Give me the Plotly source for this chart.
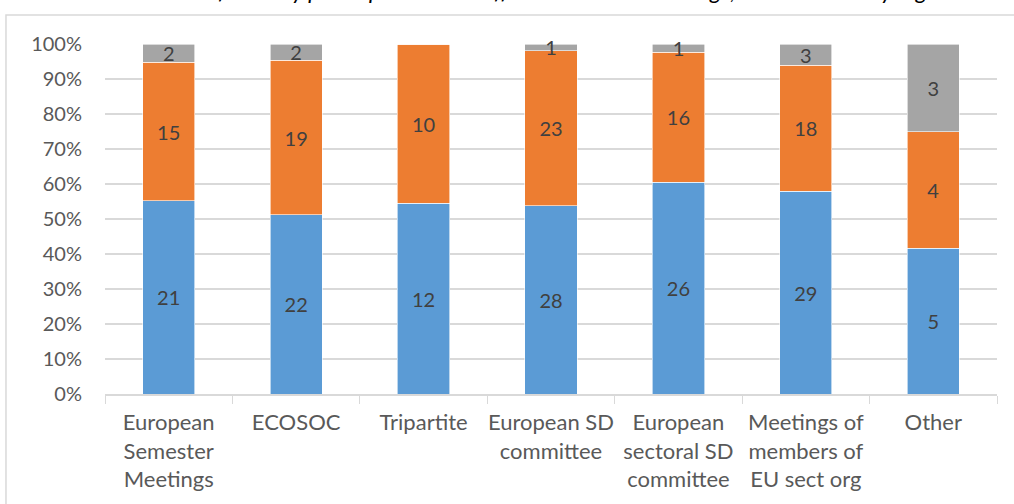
import plotly.graph_objects as go

categories = ["European<br>Semester<br>Meetings", "ECOSOC", "Tripartite",
              "European SD<br>committee", "European<br>sectoral SD<br>committee",
              "Meetings of<br>members of<br>EU sect org", "Other"]
blue_vals = [21, 22, 12, 28, 26, 29, 5]
orange_vals = [15, 19, 10, 23, 16, 18, 4]
gray_vals = [2, 2, 0, 1, 1, 3, 3]
y_ticks = [0, 10, 20, 30, 40, 50, 60, 70, 80, 90, 100]
y_tick_labels = [f"{v}%" for v in y_ticks]
title_text = "How often they participate in the different EU level meetings, broken down by region"

colors = ["#5B9BD5", "#ED7D31", "#A5A5A5"]
FONT = "Lato"

fig = go.Figure()
for vals, col in zip([blue_vals, orange_vals, gray_vals], colors):
    fig.add_trace(go.Bar(
        x=categories, y=vals, marker=dict(color=col, line=dict(width=0.6, color="#ffffff")),
        text=[str(v) if v else "" for v in vals], textposition="inside",
        insidetextanchor="middle", textangle=0,
        textfont=dict(family=FONT, size=20, color="#404040"),
        constraintext="none", cliponaxis=False, showlegend=False,
    ))

fig.update_layout(
    barmode="stack", barnorm="percent", bargap=0.59,
    width=1014, height=504,
    margin=dict(l=105, r=17, t=44, b=110),
    paper_bgcolor="white", plot_bgcolor="white",
    font=dict(family=FONT, size=20, color="#595959"),
)
fig.update_xaxes(
    showgrid=False, showline=True, linecolor="#D9D9D9", linewidth=1.5,
    ticks="outside", tickson="boundaries", ticklen=8, tickcolor="#D9D9D9",
    ticklabelstandoff=8, tickangle=0, automargin=False,
    tickfont=dict(family=FONT, size=22, color="#595959"),
)
fig.update_yaxes(
    range=[0, 100], tickvals=y_ticks, ticktext=y_tick_labels,
    showgrid=True, gridcolor="#D9D9D9", gridwidth=1.5, automargin=False,
    zeroline=False, showline=False, ticklabelstandoff=22,
    tickfont=dict(family=FONT, size=20, color="#595959"),
)
# chart border
fig.add_shape(type="rect", xref="paper", yref="paper",
              x0=-0.111, x1=1.05, y0=-0.5, y1=1.083,
              line=dict(color="#D9D9D9", width=1.5), fillcolor="rgba(0,0,0,0)", layer="below")
# title, cut off at the top of the picture (only descenders visible)
fig.add_annotation(xref="paper", yref="paper", x=0.056, xanchor="left",
                   y=1.153, yanchor="middle", text=f"<i>{title_text}</i>",
                   showarrow=False, font=dict(family=FONT, size=23, color="#000000"))

fig.write_html("out.html", config={"displayModeBar": False},
               post_script="document.body.style.margin='0px';")
